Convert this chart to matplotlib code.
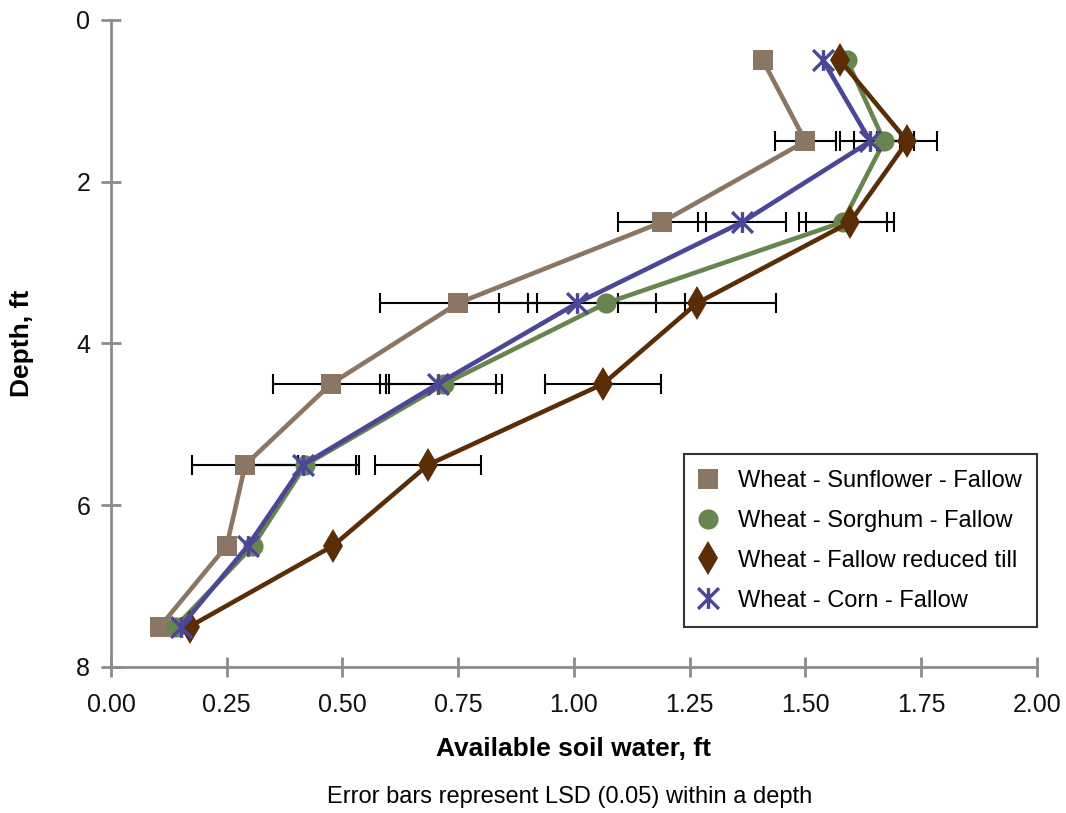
import numpy as np
import matplotlib
matplotlib.use("Agg")
import matplotlib.pyplot as plt
from matplotlib.path import Path
from matplotlib.lines import Line2D

plt.rcParams['font.family'] = ['Liberation Sans', 'DejaVu Sans']

depths = [0.5, 1.5, 2.5, 3.5, 4.5, 5.5, 6.5, 7.5]
sunflower = [1.408, 1.50, 1.19, 0.75, 0.475, 0.29, 0.25, 0.106]
sorghum = [1.59, 1.67, 1.58, 1.07, 0.72, 0.42, 0.307, 0.14]
fallow_rt = [1.575, 1.72, 1.596, 1.266, 1.063, 0.685, 0.48, 0.17]
corn = [1.538, 1.64, 1.363, 1.007, 0.706, 0.415, 0.296, 0.151]
lsd = [0.0, 0.13, 0.19, 0.34, 0.25, 0.23, 0.0, 0.0]

labels = ["Wheat - Sunflower - Fallow", "Wheat - Sorghum - Fallow",
          "Wheat - Fallow reduced till", "Wheat - Corn - Fallow"]
xticks = [0.0, 0.25, 0.5, 0.75, 1.0, 1.25, 1.5, 1.75, 2.0]
yticks = [0, 2, 4, 6, 8]

star = Path([(-1, -1), (1, 1), (-1, 1), (1, -1), (0, -1), (0, 1)],
            [Path.MOVETO, Path.LINETO, Path.MOVETO, Path.LINETO, Path.MOVETO, Path.LINETO])

styles = [
    dict(color="#8b7563", marker="s", ms=15, mew=0),
    dict(color="#67854f", marker="o", ms=14.5, mew=0),
    dict(color="#5a2d06", marker="d", ms=17, mew=0),
    dict(color="#4b4796", marker=star, ms=15, mew=2.4),
]

fig = plt.figure(figsize=(10.66, 8.13), dpi=100)
ax = fig.add_axes([0.1041, 0.1796, 0.8687, 0.7958])

series = [sunflower, sorghum, fallow_rt, corn]
d = np.array(depths)
l = np.array(lsd)
mask = l > 0
for s in series:
    s = np.array(s)
    ax.errorbar(s[mask], d[mask], xerr=l[mask] / 2, fmt='none', ecolor='black',
                elinewidth=1.5, capsize=7.5, capthick=1.5, zorder=2)

for s, st, lab in zip(series, styles, labels):
    ax.plot(s, depths, color=st['color'], lw=3.3, marker=st['marker'],
            ms=st['ms'], mew=st['mew'], mec=st['color'], mfc=st['color'],
            zorder=3, label=lab)

ax.set_xlim(0, 2)
ax.set_ylim(8, 0)
ax.set_xticks(xticks)
ax.set_xticklabels([f"{v:.2f}" for v in xticks])
ax.set_yticks(yticks)
for sp in ['top', 'right']:
    ax.spines[sp].set_visible(False)
for sp in ['left', 'bottom']:
    ax.spines[sp].set_color('#8c8c8c')
    ax.spines[sp].set_linewidth(2)
ax.tick_params(axis='both', direction='inout', length=14, width=2, color='#8c8c8c',
               labelsize=18, labelcolor='#111111')
ax.tick_params(axis='x', pad=12)
ax.tick_params(axis='y', pad=8)

xl = ax.set_xlabel("Available soil water, ft", fontsize=19, fontweight='bold')
yl = ax.set_ylabel("Depth, ft", fontsize=19, fontweight='bold')
ax.xaxis.set_label_coords(0.5, (667 - 749) / 647)
xl.set_va('center')
ax.yaxis.set_label_coords((22 - 111) / 926, 0.5)
yl.set_va('center')

handles = [Line2D([], [], linestyle='none', marker=st['marker'], ms=st['ms'],
                  mew=st['mew'], color=st['color'], mec=st['color'], mfc=st['color'])
           for st in styles]
leg = ax.legend(handles, labels, loc='lower right', bbox_to_anchor=(1.0, 0.0618),
                fontsize=17, frameon=True, fancybox=False, edgecolor='black',
                borderpad=0.65, labelspacing=0.76, handletextpad=0.9, handlelength=0.75,
                borderaxespad=0)
leg.get_frame().set_linewidth(1.5)

fig.text(0.5345, 1 - 797 / 813, "Error bars represent LSD (0.05) within a depth",
         ha='center', va='center', fontsize=17)

fig.savefig("out.png", dpi=100)
